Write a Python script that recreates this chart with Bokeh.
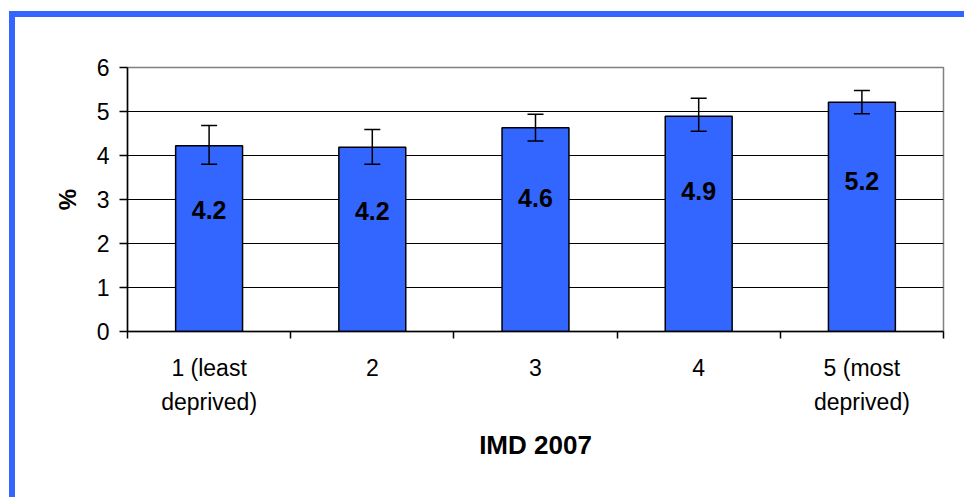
from bokeh.plotting import figure
from bokeh.models import Range1d, FixedTicker, Whisker, ColumnDataSource, TeeHead
from bokeh.core.properties import value
from bokeh.embed import file_html
from bokeh.resources import INLINE

# ---- data ----
categories = ["1 (least\ndeprived)", "2", "3", "4", "5 (most\ndeprived)"]
values = [4.22, 4.19, 4.63, 4.89, 5.21]
lower = [3.80, 3.80, 4.33, 4.55, 4.95]
upper = [4.68, 4.59, 4.94, 5.30, 5.48]
y_ticks = [0, 1, 2, 3, 4, 5, 6]
x_title = "IMD 2007"
y_title = "%"

FONT = "Liberation Sans"
BLUE = "#3366FF"

xs = [i + 1 for i in range(len(categories))]
src = ColumnDataSource(dict(
    x=xs, top=values, lower=lower, upper=upper,
    label=[f"{v:.1f}" for v in values],
    label_y=[v * 0.655 for v in values],
))

p = figure(width=964, height=497, x_range=Range1d(0.5, len(categories) + 0.5),
           y_range=Range1d(0, 6), output_backend="svg", toolbar_location=None,
           min_border_left=127, min_border_right=21, min_border_top=67,
           min_border_bottom=166)
p.outline_line_color = "#808080"
p.outline_line_width = 1.5
p.background_fill_color = "white"
p.border_fill_alpha = 0
# blue outer frame (top and left edges visible), drawn as the host background
p.styles = {
    "background-color": "white",
    "background-image": f"linear-gradient({BLUE},{BLUE}), linear-gradient({BLUE},{BLUE})",
    "background-position": "9px 11px, 9px 11px",
    "background-size": "6px 100%, 100% 6px",
    "background-repeat": "no-repeat",
}

p.vbar(x="x", top="top", width=0.41, source=src, fill_color=BLUE,
       line_color="black", line_width=1.5)

w = Whisker(source=src, base="x", upper="upper", lower="lower",
            line_color="black", line_width=1.5, level="annotation",
            upper_head=TeeHead(size=16, line_color="black", line_width=1.5),
            lower_head=TeeHead(size=16, line_color="black", line_width=1.5))
p.add_layout(w)

p.text(x="x", y="label_y", text="label", source=src,
       text_font=value(FONT), text_font_style="bold", text_font_size="25px",
       text_align="center", text_baseline="middle", text_color="black")

# grid
p.xgrid.visible = False
p.ygrid.ticker = FixedTicker(ticks=[t for t in y_ticks if 0 < t < 6])
p.ygrid.grid_line_color = "black"
p.ygrid.grid_line_width = 1

# y axis
p.yaxis.ticker = FixedTicker(ticks=y_ticks)
p.yaxis.minor_tick_line_color = None
p.yaxis.major_tick_in = 0
p.yaxis.major_tick_out = 8
p.yaxis.major_tick_line_width = 1.5
p.yaxis.axis_line_width = 1.5
p.yaxis.axis_line_color = "black"
p.yaxis.major_label_text_font = FONT
p.yaxis.major_label_text_font_size = "23px"
p.yaxis.major_label_text_color = "black"
p.yaxis.major_label_standoff = 10
p.yaxis.axis_label = y_title
p.yaxis.axis_label_text_font = FONT
p.yaxis.axis_label_text_font_size = "24px"
p.yaxis.axis_label_text_font_style = "bold"
p.yaxis.axis_label_text_color = "black"
p.yaxis.axis_label_standoff = 13

# x axis
p.xaxis.ticker = FixedTicker(ticks=xs, minor_ticks=[i + 0.5 for i in range(len(categories) + 1)])
p.xaxis.major_label_overrides = {x: c for x, c in zip(xs, categories)}
p.xaxis.major_tick_line_color = None
p.xaxis.major_tick_in = 0
p.xaxis.major_tick_out = 0
p.xaxis.minor_tick_in = 0
p.xaxis.minor_tick_out = 7
p.xaxis.minor_tick_line_color = "black"
p.xaxis.minor_tick_line_width = 1.5
p.xaxis.axis_line_width = 1.5
p.xaxis.axis_line_color = "black"
p.xaxis.major_label_text_font = FONT
p.xaxis.major_label_text_font_size = "23px"
p.xaxis.major_label_text_color = "black"
p.xaxis.major_label_text_line_height = 1.33
p.xaxis.major_label_standoff = 16
p.xaxis.axis_label = x_title
p.xaxis.axis_label_text_font = FONT
p.xaxis.axis_label_text_font_size = "26px"
p.xaxis.axis_label_text_font_style = "bold"
p.xaxis.axis_label_text_color = "black"
p.xaxis.axis_label_standoff = 12

open("out.html", "w").write(file_html(p, INLINE))
